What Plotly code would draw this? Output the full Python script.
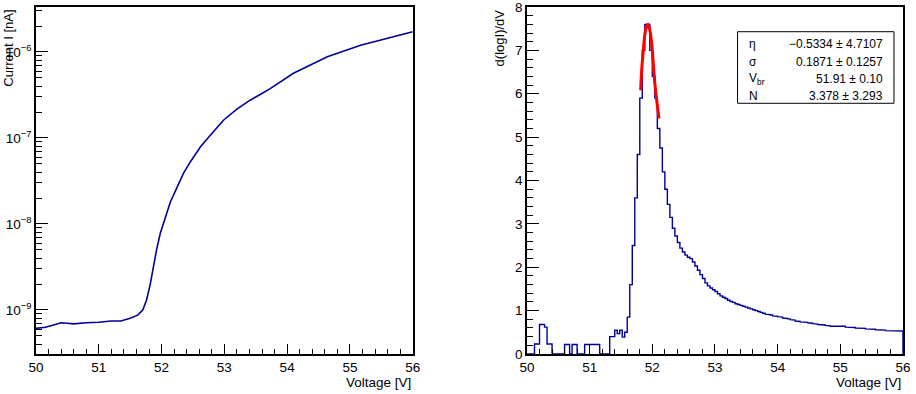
import plotly.graph_objects as go

# --- left panel: I-V curve (log scale) ---
iv_voltage = [50.00, 50.15, 50.28, 50.40, 50.50, 50.60, 50.80, 51.00, 51.20, 51.35,
              51.50, 51.62, 51.70, 51.76, 51.82, 51.87, 51.92, 51.98, 52.06, 52.14,
              52.25, 52.35, 52.46, 52.62, 52.78, 52.99, 53.20, 53.41, 53.57, 53.73,
              54.10, 54.64, 55.17, 55.70, 56.00]
iv_current = [6.1e-10, 6.3e-10, 6.7e-10, 7.1e-10, 7.0e-10, 6.9e-10, 7.1e-10, 7.2e-10, 7.45e-10, 7.45e-10,
              8.0e-10, 8.7e-10, 1.0e-9, 1.3e-9, 2.0e-9, 3.2e-9, 5.0e-9, 7.8e-9, 1.2e-8, 1.8e-8,
              2.7e-8, 3.9e-8, 5.3e-8, 7.9e-8, 1.08e-7, 1.62e-7, 2.16e-7, 2.75e-7, 3.2e-7, 3.75e-7,
              5.65e-7, 8.8e-7, 1.2e-6, 1.53e-6, 1.72e-6]
log_tick_vals = [1e-9, 1e-8, 1e-7, 1e-6]
log_tick_text = ["10<sup>−9</sup>", "10<sup>−8</sup>", "10<sup>−7</sup>", "10<sup>−6</sup>"]

# --- right panel: d(logI)/dV histogram, 150 bins of 0.04 V from 50 to 56 ---
V_START = 50.0
BIN_W = 0.04
dlogi_dv = [
    0, 0, 0, 0.23, 0.23, 0.68, 0.68, 0.62, 0.23, 0.23,
    0, 0, 0, 0, 0, 0.22, 0.22, 0, 0.22, 0.22,
    0, 0, 0, 0.22, 0.22, 0.22, 0.22, 0.22, 0.22, 0,
    0, 0, 0, 0.40, 0.40, 0.55, 0.47, 0.55, 0.39, 0.50,
    0.85, 1.6, 2.5, 3.6, 4.6, 5.9, 7.0, 7.6, 7.6, 7.0,
    6.4, 5.9, 5.2, 4.75, 4.2, 3.8, 3.45, 3.15, 2.9, 2.72,
    2.57, 2.44, 2.35, 2.28, 2.23, 2.20, 2.12, 2.03, 1.93, 1.83,
    1.74, 1.64, 1.57, 1.52, 1.48, 1.44, 1.39, 1.34, 1.31, 1.28,
    1.24, 1.21, 1.19, 1.16, 1.14, 1.12, 1.10, 1.08, 1.06, 1.04,
    1.02, 1.00, 0.98, 0.96, 0.94, 0.92, 0.91, 0.90, 0.88, 0.87,
    0.86, 0.85, 0.83, 0.82, 0.81, 0.79, 0.78, 0.76, 0.75, 0.74,
    0.74, 0.73, 0.72, 0.71, 0.70, 0.69, 0.68, 0.67, 0.67, 0.66,
    0.65, 0.64, 0.64, 0.63, 0.63, 0.63, 0.64, 0.62, 0.62, 0.61,
    0.61, 0.60, 0.60, 0.59, 0.59, 0.58, 0.58, 0.57, 0.57, 0.56,
    0.55, 0.55, 0.55, 0.54, 0.54, 0.54, 0.53, 0.54, 0.53, 0.53,
]

# fit curve (red)
fit_v = [51.814, 51.83, 51.856, 51.883, 51.91, 51.93, 51.96, 51.99, 52.015, 52.04, 52.07, 52.106]
fit_y = [6.08, 6.54, 7.0, 7.39, 7.56, 7.60, 7.47, 7.16, 6.70, 6.24, 5.85, 5.43]

# fit parameters
stat_names = ["η", "σ", "V<sub>br</sub>", "N"]
stat_values = ["−0.5334 ± 4.7107", "0.1871 ± 0.1257", "51.91 ± 0.10", "3.378 ± 3.293"]

FONT = "Liberation Sans, Arial, Helvetica, sans-serif"
BLUE = "#000099"

# build the step outline of the histogram
hx = [V_START]
hy = [0]
for i, v in enumerate(dlogi_dv):
    hx += [V_START + i * BIN_W, V_START + (i + 1) * BIN_W]
    hy += [v, v]
hx.append(V_START + len(dlogi_dv) * BIN_W)
hy.append(0)

fig = go.Figure()
fig.add_trace(go.Scatter(x=iv_voltage, y=iv_current, mode="lines",
                         line=dict(color=BLUE, width=1.6), xaxis="x", yaxis="y"))
fig.add_trace(go.Scatter(x=hx, y=hy, mode="lines",
                         line=dict(color=BLUE, width=1.4), xaxis="x2", yaxis="y2"))
fig.add_trace(go.Scatter(x=fit_v, y=fit_y, mode="lines", line_shape="spline",
                         line=dict(color="#ff0000", width=3), xaxis="x2", yaxis="y2"))

minor_log = [k * 10.0 ** e for e in range(-10, -5) for k in range(2, 10)]

common = dict(showline=True, linecolor="black", linewidth=1.5, mirror=True,
              showgrid=False, zeroline=False, ticks="inside", tickcolor="black",
              automargin=False, ticklabeloverflow="allow",
              tickfont=dict(family=FONT, size=13.5, color="black"))

xcommon = dict(common, range=[50, 56], tick0=50, dtick=1, ticklen=10,
               minor=dict(dtick=0.2, ticks="inside", ticklen=5, tickcolor="black", showgrid=False))

fig.update_layout(
    template="none",
    width=916, height=394,
    margin=dict(l=36, r=13, t=7, b=40),
    paper_bgcolor="white", plot_bgcolor="white",
    showlegend=False,
    xaxis=dict(xcommon, domain=[0, 0.4345], anchor="y"),
    yaxis=dict(common, type="log", range=[-9.512, -5.477],
               tickmode="array", tickvals=log_tick_vals, ticktext=log_tick_text,
               ticklen=12, anchor="x",
               minor=dict(tickmode="array", tickvals=minor_log, ticks="inside",
                          ticklen=6, tickcolor="black", showgrid=False)),
    xaxis2=dict(xcommon, domain=[0.5663, 1], anchor="y2"),
    yaxis2=dict(common, range=[0, 8], tick0=0, dtick=1, ticklen=12, anchor="x2",
                minor=dict(dtick=0.2, ticks="inside", ticklen=6, tickcolor="black", showgrid=False)),
)

# axis titles, ROOT style (right / top aligned)
title_font = dict(family=FONT, size=13.5, color="black")
fig.add_annotation(text="Voltage [V]", xref="x domain", yref="paper", x=1, y=-0.055,
                   xanchor="right", yanchor="top", showarrow=False, font=title_font)
fig.add_annotation(text="Voltage [V]", xref="x2 domain", yref="paper", x=1, y=-0.055,
                   xanchor="right", yanchor="top", showarrow=False, font=title_font)
fig.add_annotation(text="Current I [nA]", xref="paper", yref="paper", x=-0.0311, y=0.880,
                   xanchor="center", yanchor="middle", textangle=-90, showarrow=False,
                   font=dict(family=FONT, size=13, color="black"))
fig.add_annotation(text="d(logI)/dV", xref="paper", yref="paper", x=0.535, y=0.912,
                   xanchor="center", yanchor="middle", textangle=-90, showarrow=False,
                   font=dict(family=FONT, size=13, color="black"))

# stats box
fig.add_shape(type="rect", xref="x2 domain", yref="y2 domain",
              x0=0.56, x1=0.976, y0=0.7225, y1=0.9288,
              line=dict(color="black", width=1), fillcolor="white", layer="above")
row_y = [0.893, 0.842, 0.7925, 0.7435]
stat_font = dict(family=FONT, size=12, color="black")
for name, val, yy in zip(stat_names, stat_values, row_y):
    fig.add_annotation(text=name, xref="x2 domain", yref="y2 domain", x=0.584, y=yy,
                       xanchor="left", yanchor="middle", showarrow=False, font=stat_font)
    fig.add_annotation(text=val, xref="x2 domain", yref="y2 domain", x=0.953, y=yy,
                       xanchor="right", yanchor="middle", showarrow=False, font=stat_font)

# drop the default 8px page margin so the figure fills the window
fig.write_html("out.html", config={"displayModeBar": False},
               post_script="document.body.style.margin='0';")
